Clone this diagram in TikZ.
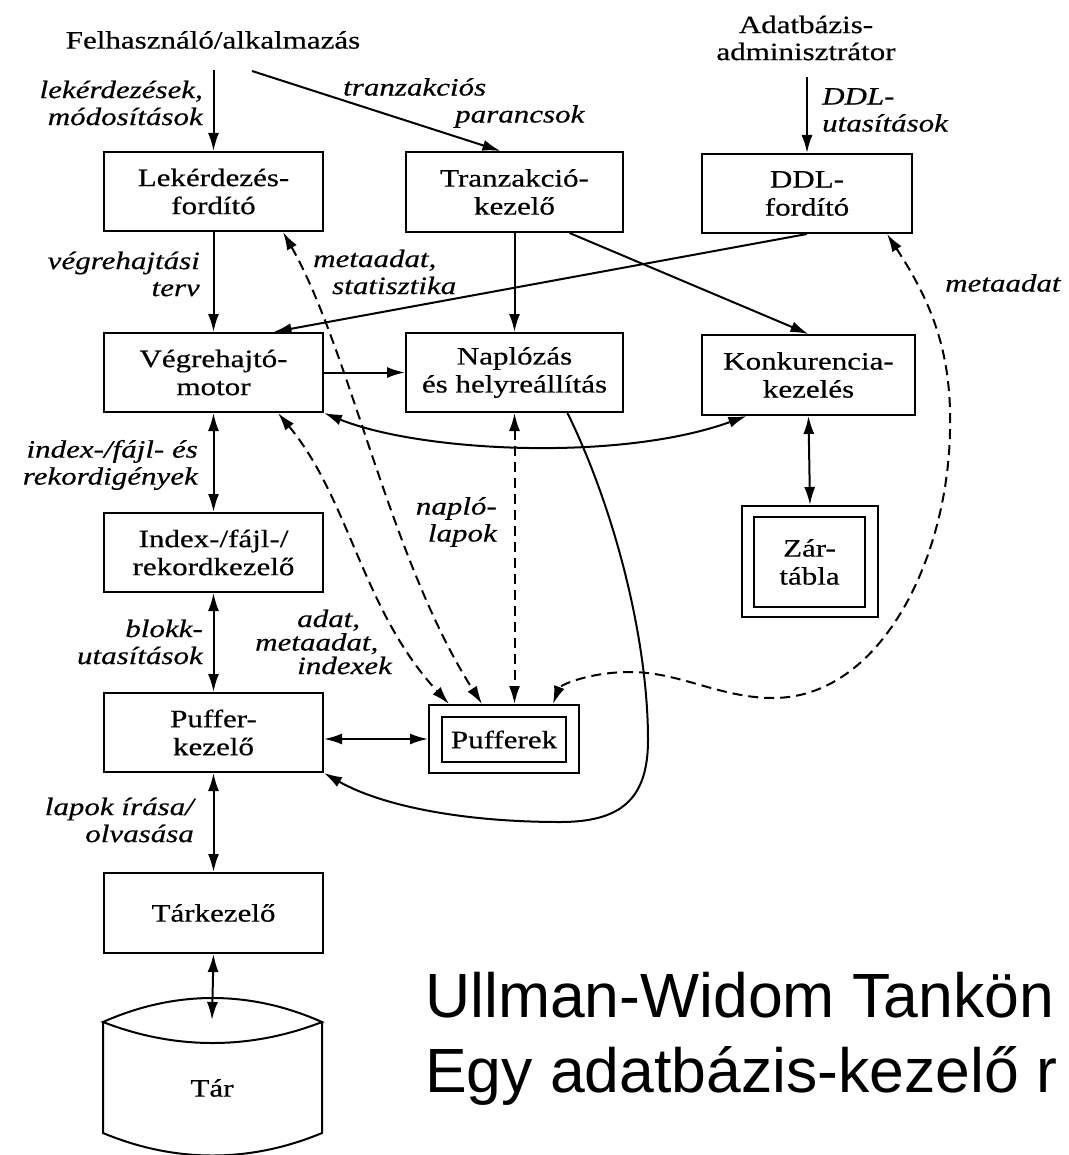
\documentclass[tikz,border=0pt]{standalone}
\usepackage{fontspec}
\setmainfont[FakeStretch=1.24,FakeBold=0.5]{Liberation Serif}
\newfontfamily\capfont{Liberation Sans}
\usetikzlibrary{arrows.meta}
\newcommand\dgfont{\fontsize{25}{28}\selectfont}
\newcommand\lbfont{\fontsize{25}{27}\selectfont\itshape}
\tikzset{
  box/.style={draw, line width=2pt, inner sep=0pt, align=center, font=\dgfont},
  txt/.style={inner sep=0pt, align=center, font=\dgfont},
  lbl/.style={inner sep=0pt, font=\lbfont},
  arr/.style={line width=2pt, -{Latex[length=18pt,width=11pt]}},
  barr/.style={line width=2pt, {Latex[length=18pt,width=11pt]}-{Latex[length=18pt,width=11pt]}},
  dsh/.style={dash pattern=on 10pt off 6pt},
  capt/.style={inner sep=0pt, font=\capfont\fontsize{62.5}{70}\selectfont}
}
\begin{document}
\begin{tikzpicture}[x=1pt,y=-1pt]
\useasboundingbox (0,0) rectangle (1068,1155);
\fill[white] (0,0) rectangle (1068,1155);

% top texts
\node[txt] (usr) at (213,40) {Felhasználó/alkalmazás};
\node[txt, font=\fontsize{25}{27}\selectfont] (adm) at (806,38) {Adatbázis-\\adminisztrátor};
\coordinate (usrA) at (213.5,70);
\coordinate (usrB) at (252,71);
\coordinate (admA) at (807,77);

% boxes
\node[box, minimum width=219pt, minimum height=79pt] (lek) at (213.5,191.5) {Lekérdezés-\\fordító};
\node[box, minimum width=217pt, minimum height=80pt] (tra) at (514.5,192) {Tranzakció-\\kezelő};
\node[box, minimum width=210pt, minimum height=79pt] (ddl) at (807,193.5) {DDL-\\fordító};
\node[box, minimum width=219pt, minimum height=79pt] (veg) at (213.5,372.5) {Végrehajtó-\\motor};
\node[box, minimum width=217pt, minimum height=79pt] (nap) at (514.5,372.5) {Naplózás\\és helyreállítás};
\node[box, minimum width=213pt, minimum height=80pt] (kon) at (808.5,375) {Konkurencia-\\kezelés};
\node[box, minimum width=219pt, minimum height=79pt] (idx) at (213.5,552.5) {Index-/fájl-/\\rekordkezelő};
\node[box, minimum width=219pt, minimum height=79pt] (puf) at (213.5,732.5) {Puffer-\\kezelő};
\node[box, minimum width=219pt, minimum height=80pt] (tkz) at (213.5,913) {Tárkezelő};
\node[box, minimum width=150pt, minimum height=68pt] (pfk) at (504,739) {};
\node[box, minimum width=124pt, minimum height=45pt] (pfkin) at (504,739.5) {Pufferek};
\node[box, minimum width=136pt, minimum height=111pt] (zar) at (810,561.5) {};
\node[box, minimum width=111pt, minimum height=90pt] (zarin) at (809.5,562) {Zár-\\tábla};

% storage cylinder
\draw[line width=2pt] (103,1022) .. controls (175,990) and (250,990) .. (322,1022)
  .. controls (250,1050) and (175,1050) .. (103,1022) -- cycle;
\draw[line width=2pt] (103,1022) -- (103,1133) .. controls (175,1163) and (250,1163) .. (322,1133) -- (322,1022);
\node[txt] (tar) at (212,1088) {Tár};
\coordinate (tartop) at (212,1020);

% labels
\node[lbl, align=right, anchor=east] (l1) at (203,103) {lekérdezések,\\módosítások};
\node[lbl, align=left, anchor=west] (l2) at (343,103) {tranzakciós\\\hspace*{112pt}parancsok};
\node[lbl, align=left, anchor=west] (l3) at (822,110) {DDL-\\utasítások};
\node[lbl, align=right, anchor=east] (l4) at (200,274) {végrehajtási\\terv};
\node[lbl, align=left, anchor=west] (l5) at (313,272) {metaadat,\\\hspace*{19pt}statisztika};
\node[lbl, anchor=west] (l6) at (945,283) {metaadat};
\node[lbl, align=right, anchor=east] (l7) at (198,465) {index-/fájl- és\\rekordigények};
\node[lbl, align=right, anchor=east] (l8) at (497,522) {napló-\\lapok};
\node[lbl, align=right, anchor=east] (l9) at (203,642) {blokk-\\utasítások};
\node[lbl, align=left, anchor=west, font=\fontsize{25}{23.5}\selectfont\itshape] (l10) at (255,642) {\hspace*{42pt}adat,\\metaadat,\\\hspace*{42pt}indexek};
\node[lbl, align=right, anchor=east] (l11) at (194,820) {lapok írása/\\olvasása};

% caption
\node[capt, anchor=base west] (cap1) at (425,1017) {Ullman-Widom Tankön};
\node[capt, anchor=base west] (cap2) at (425,1092) {Egy adatbázis-kezelő r};

% solid connectors
\draw[arr] (usrA) -- (lek.north);
\draw[arr] (usrB) -- ([xshift=-14pt]tra.north);
\draw[arr] (admA) -- (ddl.north);
\draw[arr] (lek.south) -- (veg.north);
\draw[arr] (tra.south) -- (nap.north);
\draw[arr] ([xshift=55pt]tra.south) -- (kon.north);
\draw[arr] (ddl.south) -- ([xshift=60pt]veg.north);
\draw[arr] (veg.east) -- (nap.west);
\draw[barr] (veg.south east) .. controls (420,452) and (620,462) .. ([xshift=-62pt]kon.south);
\draw[barr] (veg.south) -- (idx.north);
\draw[barr] (idx.south) -- (puf.north);
\draw[barr] (puf.south) -- (tkz.north);
\draw[barr] (tkz.south) -- (tartop);
\draw[barr] (pfk.west -| puf.east) -- (pfk.west);
\draw[barr] (kon.south) -- (zar.north);
\draw[arr] ([xshift=53pt]nap.south) .. controls (615,510) and (648,640) .. (648,740)
  .. controls (648,800) and (620,822) .. (560,822)
  .. controls (460,822) and (380,805) .. (puf.south east);

% dashed connectors
\draw[barr, dsh] (nap.south) -- (nap.south |- pfk.north);
\draw[barr, dsh] ([xshift=-41pt]lek.south east) .. controls (350,350) and (390,560) .. ([xshift=-22pt]pfk.north);
\draw[barr, dsh] ([xshift=-46pt]veg.south east) .. controls (350,500) and (362,610) .. ([xshift=-55pt]pfk.north);
\draw[barr, dsh] ([xshift=-26pt]ddl.south east) .. controls (930,300) and (952,350) .. (950,430)
  .. controls (948,560) and (880,698) .. (773,698)
  .. controls (720,698) and (680,672) .. (630,672)
  .. controls (590,672) and (560,685) .. ([xshift=49pt]pfk.north);
\end{tikzpicture}
\end{document}
